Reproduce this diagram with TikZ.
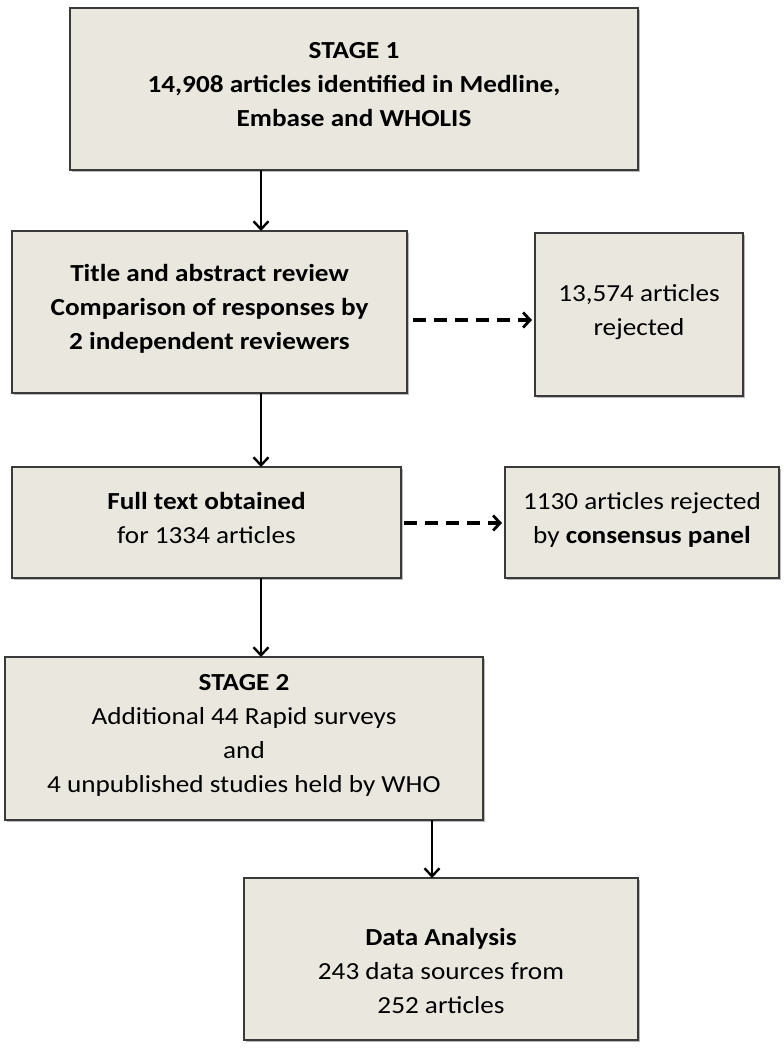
\documentclass[tikz,border=0pt]{standalone}
\usepackage{fontspec}
\setmainfont{Carlito}[FakeStretch=1.11]
\usetikzlibrary{arrows.meta,shadows}
\definecolor{boxfill}{HTML}{EAE7DF}
\definecolor{boxline}{HTML}{3A3A3A}
\tikzset{
  box/.style={draw=boxline, line width=1.4pt, fill=boxfill, align=center, inner sep=2pt, outer sep=0pt,
    font=\fontsize{24.5}{34}\selectfont, text depth=10pt,
    drop shadow={shadow xshift=1.6pt, shadow yshift=-1.6pt, fill=black!45, opacity=0.6}},
  arr/.style={line width=2.6pt, -{Straight Barb[length=8pt,width=15pt,line width=2.4pt]}},
  darr/.style={line width=3.2pt, dash pattern=on 13pt off 8pt, -{Straight Barb[length=7pt,width=15pt,line width=2.8pt]}}
}
\begin{document}
\begin{tikzpicture}[x=1pt,y=1pt]
\useasboundingbox[fill=white] (0,0) rectangle (784,-1050);
\node[box, minimum width=568, minimum height=162] (s1) at (354,-89)
  {\textbf{STAGE 1}\\\textbf{14,908 articles identified in Medline,}\\\textbf{Embase and WHOLIS}};
\node[box, minimum width=395, minimum height=162] (s2) at (209.5,-312)
  {\textbf{Title and abstract review}\\\textbf{Comparison of responses by}\\\textbf{2 independent reviewers}};
\node[box, minimum width=208, minimum height=163] (r1) at (639,-314.5)
  {13,574 articles\\rejected};
\node[box, minimum width=389, minimum height=111] (s3) at (206.5,-522.5)
  {\textbf{Full text obtained}\\for 1334 articles};
\node[box, minimum width=274, minimum height=111] (r2) at (642,-522.5)
  {1130 articles rejected\\by \textbf{consensus panel}};
\node[box, minimum width=478, minimum height=163] (s4) at (244,-738.5)
  {\textbf{STAGE 2}\\Additional 44 Rapid surveys\\and\\4 unpublished studies held by WHO};
\node[box, minimum width=394, minimum height=162, text depth=0pt] (s5) at (441,-959)
  {\\[6pt]\textbf{Data Analysis}\\243 data sources from\\252 articles};
\coordinate (ax) at (261,0);
\coordinate (bx) at (432,0);
\coordinate (d1) at (0,-320);
\coordinate (d2) at (0,-523);
\draw[arr] (ax |- s1.south) -- (ax |- s2.north);
\draw[arr] (ax |- s2.south) -- (ax |- s3.north);
\draw[arr] (ax |- s3.south) -- (ax |- s4.north);
\draw[arr] (bx |- s4.south) -- (bx |- s5.north);
\draw[darr] ([xshift=6pt]s2.east |- d1) -- ([xshift=-3pt]r1.west |- d1);
\draw[darr] ([xshift=3pt]s3.east |- d2) -- ([xshift=-3pt]r2.west |- d2);
\end{tikzpicture}
\end{document}
